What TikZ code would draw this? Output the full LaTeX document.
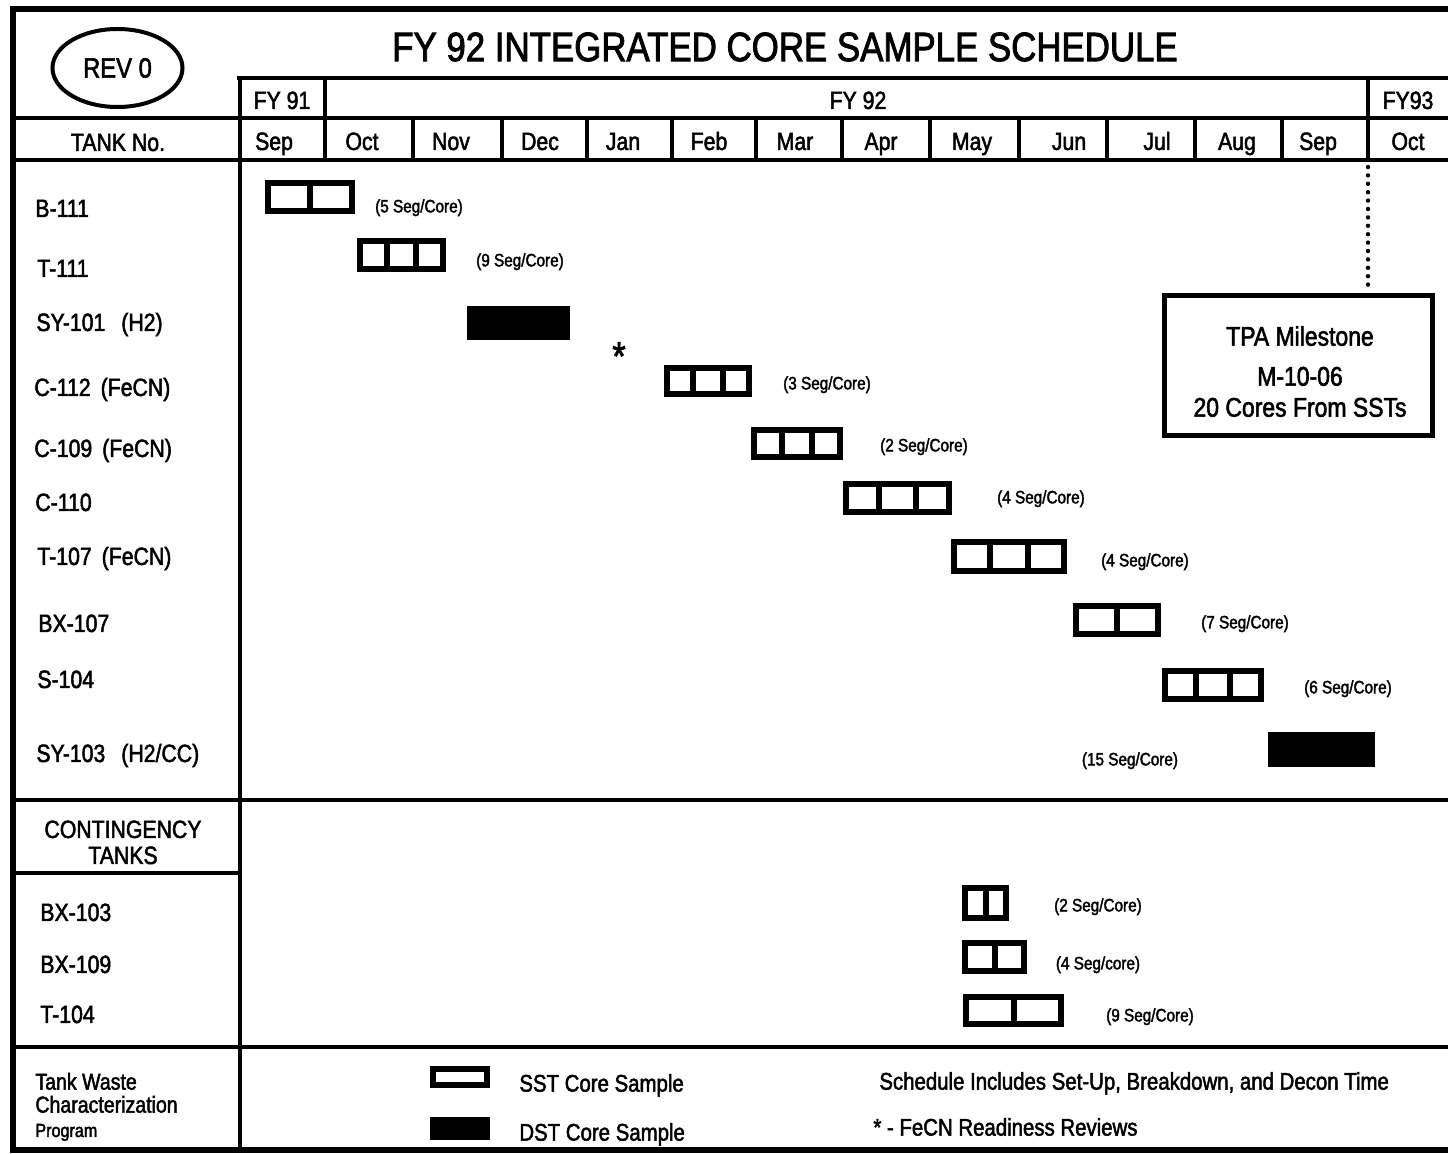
\documentclass[tikz,border=0pt]{standalone}
\usepackage{fontspec}
\setmainfont{Liberation Sans}[FakeStretch=0.85,FakeBold=2]
\usetikzlibrary{calc,shapes.geometric}
\tikzset{
  grid/.style={line width=2pt},
  frame/.style={line width=2.8pt},
  sst/.style={draw, line width=3pt, inner sep=0pt},
  sstdiv/.style={line width=3pt},
  dst/.style={fill=black, inner sep=0pt},
  lbl/.style={anchor=west, inner sep=0pt, text height=9pt, text depth=0pt, font=\fontsize{12.5}{15}\selectfont},
  hdr/.style={inner sep=0pt, text height=9pt, text depth=0pt, font=\fontsize{12.5}{15}\selectfont},
  seglbl/.style={inner sep=0pt, text height=6.4pt, text depth=0pt, font=\fontsize{9}{11}\selectfont},
  legtxt/.style={anchor=west, inner sep=0pt, text height=8.6pt, text depth=0pt, font=\fontsize{12}{14}\selectfont},
  tpatxt/.style={inner sep=0pt, text height=9.7pt, text depth=0pt, font=\fontsize{13.5}{16}\selectfont},
}
% #1 name, #2 x1, #3 y1, #4 x2, #5 y2 (outer edges), #6 segments
\newcommand\sstbox[6]{%
  \node[sst, minimum width={(#4-#2-6)*0.5pt}, minimum height={(#5-#3-6)*0.5pt}]
    (#1) at ({(#2+#4)/2},{(#3+#5)/2}) {};
  \ifnum#6>1
    \pgfmathtruncatemacro\nsegm{#6-1}%
    \foreach \k in {1,...,\nsegm} {%
      \draw[sstdiv] ($(#1.north west)!{\k/#6}!(#1.north east)$) --
                    ($(#1.south west)!{\k/#6}!(#1.south east)$);}%
  \fi
}
\newcommand\dstbox[5]{%
  \node[dst, minimum width={(#4-#2)*0.5pt}, minimum height={(#5-#3)*0.5pt}]
    (#1) at ({(#2+#4)/2},{(#3+#5)/2}) {};
}
\begin{document}
\begin{tikzpicture}[x=0.5pt,y=-0.5pt]
\useasboundingbox (0,0) rectangle (1448,1154);
% outer frame
\draw[frame] (1448,9) -- (13,9) -- (13,1150) -- (1448,1150);
% header grid
\draw[grid] (237,78) -- (1448,78);
\draw[grid] (13,118) -- (1448,118);
\draw[grid] (13,160) -- (1448,160);
\draw[grid] (240,78) -- (240,1150);
\draw[grid] (325,78) -- (325,160);
\draw[grid] (1368,78) -- (1368,160);
\foreach \x in {413,502,587,672,756,842,930,1019,1107,1195,1282}
  \draw[grid] (\x,118) -- (\x,160);
% section lines
\draw[grid] (13,800) -- (1448,800);
\draw[grid] (13,873) -- (240,873);
\draw[grid] (13,1047) -- (1448,1047);
% dotted milestone line
\draw[line width=2.2pt, line cap=round, dash pattern=on 0pt off 4.2pt] (1368,167) -- (1368,292);

% title and header
\node[inner sep=0pt, font=\fontsize{20.5}{24}\selectfont] (title) at (785,47) {FY 92 INTEGRATED CORE SAMPLE SCHEDULE};
\node[draw, ellipse, line width=2pt, minimum width=65pt, minimum height=39pt, inner sep=0pt,
      font=\fontsize{14}{16}\selectfont] (rev) at (117.5,68) {REV 0};
\node[hdr] (tankno) at (118,142) {TANK No.};
\node[hdr] (fy91) at (282,100) {FY 91};
\node[hdr] (fy92) at (858,100) {FY 92};
\node[hdr] (fy93) at (1408,100) {FY93};
\foreach \m/\x [count=\i] in {Sep/274,Oct/362,Nov/451,Dec/540,Jan/623,Feb/709,Mar/795,Apr/881,May/972,Jun/1069,Jul/1157,Aug/1237,Sep/1318,Oct/1408}
  \node[hdr] (mon\i) at (\x,141) {\m};

% row labels
\node[lbl] (rB111) at (35,208) {B-111};
\node[lbl] (rT111) at (37,268) {T-111};
\node[lbl] (rSY101) at (36,322) {SY-101\hspace{8pt}(H2)};
\node[lbl] (rC112) at (34,387) {C-112\hspace{5pt}(FeCN)};
\node[lbl] (rC109) at (34,448) {C-109\hspace{5pt}(FeCN)};
\node[lbl] (rC110) at (35,502) {C-110};
\node[lbl] (rT107) at (37,556) {T-107\hspace{5pt}(FeCN)};
\node[lbl] (rBX107) at (38,623) {BX-107};
\node[lbl] (rS104) at (37,679) {S-104};
\node[lbl] (rSY103) at (36,753) {SY-103\hspace{8pt}(H2/CC)};
\node[hdr] (cont1) at (123,829) {CONTINGENCY};
\node[hdr] (cont2) at (123,855) {TANKS};
\node[lbl] (rBX103) at (40,912) {BX-103};
\node[lbl] (rBX109) at (40,964) {BX-109};
\node[lbl] (rT104) at (40,1014) {T-104};
\node[legtxt, font=\fontsize{11.5}{13}\selectfont] (twc1) at (35,1081) {Tank Waste};
\node[legtxt, font=\fontsize{11.5}{13}\selectfont] (twc2) at (35,1104) {Characterization};
\node[legtxt, text height=7pt, font=\fontsize{9.5}{11}\selectfont] (twc3) at (35,1130) {Program};

% schedule bars
\sstbox{b111}{265}{180}{355}{214}{2}
\sstbox{t111}{357}{238}{446}{272}{3}
\dstbox{sy101}{467}{306}{570}{340}
\sstbox{c112}{664}{365}{752}{397}{3}
\sstbox{c109}{751}{427}{843}{460}{3}
\sstbox{c110}{843}{481}{952}{515}{3}
\sstbox{t107}{951}{539}{1067}{574}{3}
\sstbox{bx107}{1073}{603}{1161}{637}{2}
\sstbox{s104}{1162}{668}{1264}{702}{3}
\dstbox{sy103}{1268}{732}{1375}{767}
\sstbox{bx103}{962}{885}{1009}{921}{2}
\sstbox{bx109}{962}{940}{1027}{974}{2}
\sstbox{t104}{963}{994}{1064}{1027}{2}

% segment labels
\node[seglbl] (sB111) at (419,206) {(5 Seg/Core)};
\node[seglbl] (sT111) at (520,260) {(9 Seg/Core)};
\node[seglbl] (sC112) at (827,383) {(3 Seg/Core)};
\node[seglbl] (sC109) at (924,445) {(2 Seg/Core)};
\node[seglbl] (sC110) at (1041,497) {(4 Seg/Core)};
\node[seglbl] (sT107) at (1145,560) {(4 Seg/Core)};
\node[seglbl] (sBX107) at (1245,622) {(7 Seg/Core)};
\node[seglbl] (sS104) at (1348,687) {(6 Seg/Core)};
\node[seglbl] (sSY103) at (1130,759) {(15 Seg/Core)};
\node[seglbl] (sBX103) at (1098,905) {(2 Seg/Core)};
\node[seglbl] (sBX109) at (1098,963) {(4 Seg/core)};
\node[seglbl] (sT104) at (1150,1015) {(9 Seg/Core)};

% asterisk
\node[inner sep=0pt, anchor=north, font=\fontsize{20}{22}\selectfont] (star) at (619,342) {*};

% TPA milestone
\node[draw, line width=2.5pt, minimum width=134pt, minimum height=70pt, inner sep=0pt] (tpa) at (1298,366) {};
\node[tpatxt] (tpa1) at (1300,336) {TPA Milestone};
\node[tpatxt] (tpa2) at (1300,376) {M-10-06};
\node[tpatxt] (tpa3) at (1300,407) {20 Cores From SSTs};

% legend
\node[sst, minimum width=27pt, minimum height=8pt] (legsst) at (460,1077.5) {};
\dstbox{legdst}{430}{1117}{490}{1140}
\node[legtxt] (lsst) at (519,1083) {SST Core Sample};
\node[legtxt] (ldst) at (519,1132) {DST Core Sample};
\node[legtxt] (lsched) at (879,1081) {Schedule Includes Set-Up, Breakdown, and Decon Time};
\node[legtxt] (lfecn) at (873,1127) {* - FeCN Readiness Reviews};
\end{tikzpicture}
\end{document}
